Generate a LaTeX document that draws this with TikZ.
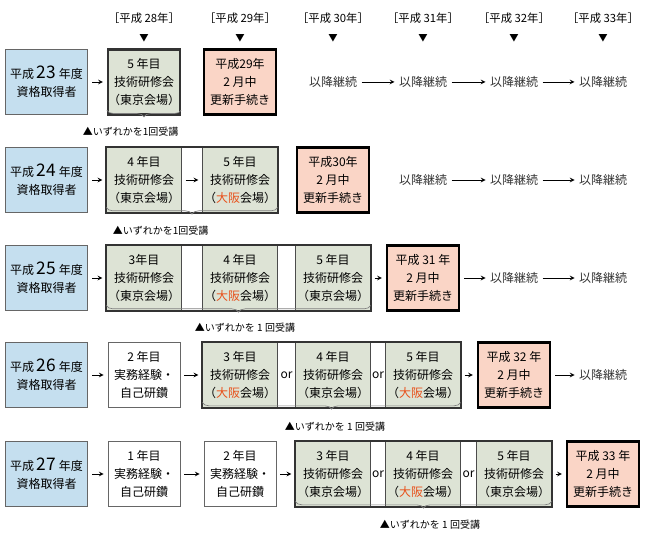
\documentclass[tikz,border=0pt]{standalone}
\usepackage{fontspec}
\setmainfont{Noto Sans CJK JP}
\usetikzlibrary{decorations.pathreplacing,calc}
\definecolor{qualblue}{RGB}{197,223,239}
\definecolor{kenshugreen}{RGB}{221,227,213}
\definecolor{koshinpink}{RGB}{250,213,198}
\definecolor{osakared}{RGB}{232,80,26}
\newcommand{\osaka}{{\color{osakared}大阪}}

\tikzset{every picture/.style={line width=0.75pt}}
\tikzset{
  base/.style={minimum height=48.75pt, align=center, inner sep=0pt, font=\fontsize{9}{13.5}\selectfont},
  qual/.style={base, draw=black!60, fill=qualblue, minimum width=62pt},
  cell/.style={base, draw=black!70, line width=0.5pt, fill=kenshugreen, minimum width=56pt},
  plain/.style={base, draw=black!60, line width=0.5pt, fill=white, minimum width=54pt},
  renew/.style={base, draw=black, line width=1.6pt, fill=koshinpink, minimum width=54pt},
  cont/.style={base, minimum height=10pt, text=black!80},
  grp/.style={draw=black!80, line width=1.6pt},
  nxt/.style={-stealth, line width=0.6pt, shorten <=3pt, shorten >=3pt},
  brc/.style={decorate, decoration={brace, mirror, amplitude=5pt}, draw=black!50, line width=0.5pt},
  note/.style={font=\fontsize{7.5}{9}\selectfont},
  orlbl/.style={font=\fontsize{9}{10}\selectfont}
}

\begin{document}
\begin{tikzpicture}[x=0.75pt,y=0.75pt,yscale=-1,xscale=1]
\useasboundingbox (0,0) rectangle (650,552);

% header
\foreach \yr/\cx in {28/144,29/240,30/333,31/423,32/514,33/603}{
  \node[font=\fontsize{8.5}{10}\selectfont] (h\yr) at (\cx,18) {［平成 \yr 年］};
  \node[font=\fontsize{7}{8}\selectfont] (t\yr) at (\cx,38) {▼};
}

% row 1
\node[qual] (q1) at (46.5,82) {平成 {\fontsize{13}{13}\selectfont 23} 年度\\資格取得者};
\node[cell, grp, minimum width=54pt] (r1c1) at (144,82) {5 年目\\技術研修会\\（東京会場）};
\node[renew] (r1p) at (240,82) {平成29年\\2 月中\\更新手続き};
\node[cont] (r1k3) at (333,82) {以降継続};
\node[cont] (r1k4) at (423,82) {以降継続};
\node[cont] (r1k5) at (514,82) {以降継続};
\node[cont] (r1k6) at (603,82) {以降継続};
\draw[nxt] (q1) -- (r1c1);
\draw[nxt] (r1k3) -- (r1k4);
\draw[nxt] (r1k4) -- (r1k5);
\draw[nxt] (r1k5) -- (r1k6);
\draw[brc] ([yshift=-4pt]r1c1.south west) -- ([yshift=-4pt]r1c1.south east);
\node[note, anchor=west] (n1) at (78,132) {▲いずれかを1回受講};

% row 2
\node[qual] (q2) at (46.5,180) {平成 {\fontsize{13}{13}\selectfont 24} 年度\\資格取得者};
\node[cell] (r2c1) at (144,180) {4 年目\\技術研修会\\（東京会場）};
\node[cell] (r2c2) at (240,180) {5 年目\\技術研修会\\（\osaka 会場）};
\draw[grp] (r2c1.north west) rectangle (r2c2.south east);
\node[renew] (r2p) at (333,180) {平成30年\\2 月中\\更新手続き};
\node[cont] (r2k4) at (423,180) {以降継続};
\node[cont] (r2k5) at (514,180) {以降継続};
\node[cont] (r2k6) at (603,180) {以降継続};
\draw[nxt] (q2) -- (r2c1);
\draw[nxt] (r2c1) -- (r2c2);
\draw[nxt] (r2k4) -- (r2k5);
\draw[nxt] (r2k5) -- (r2k6);
\draw[brc] ([yshift=-4pt]r2c1.south west) -- ([yshift=-4pt]r2c2.south east);
\node[note, anchor=west] (n2) at (108,231) {▲いずれかを1回受講};

% row 3
\node[qual] (q3) at (46.5,278) {平成 {\fontsize{13}{13}\selectfont 25} 年度\\資格取得者};
\node[cell] (r3c1) at (144,278) {3年目\\技術研修会\\（東京会場）};
\node[cell] (r3c2) at (240,278) {4 年目\\技術研修会\\（\osaka 会場）};
\node[cell] (r3c3) at (333,278) {5 年目\\技術研修会\\（東京会場）};
\draw[grp] (r3c1.north west) rectangle (r3c3.south east);
\node[renew] (r3p) at (423,278) {平成 31 年\\2 月中\\更新手続き};
\node[cont] (r3k5) at (514,278) {以降継続};
\node[cont] (r3k6) at (603,278) {以降継続};
\draw[nxt] (q3) -- (r3c1);
\draw[nxt] (r3c3) -- (r3p);
\draw[nxt] (r3p) -- (r3k5);
\draw[nxt] (r3k5) -- (r3k6);
\draw[brc] ([yshift=-4pt]r3c1.south west) -- ([yshift=-4pt]r3c3.south east);
\node[note] (n3) at (245,328) {▲いずれかを 1 回受講};

% row 4
\node[qual] (q4) at (46.5,375) {平成 {\fontsize{13}{13}\selectfont 26} 年度\\資格取得者};
\node[plain] (r4c1) at (144,375) {2 年目\\実務経験・\\自己研鑽};
\node[cell] (r4c2) at (240,375) {3 年目\\技術研修会\\（\osaka 会場）};
\node[cell] (r4c3) at (333,375) {4 年目\\技術研修会\\（東京会場）};
\node[cell] (r4c4) at (423,375) {5 年目\\技術研修会\\（\osaka 会場）};
\draw[grp] (r4c2.north west) rectangle (r4c4.south east);
\node[orlbl] (o4a) at ($(r4c2.east)!0.5!(r4c3.west)$) {or};
\node[orlbl] (o4b) at ($(r4c3.east)!0.5!(r4c4.west)$) {or};
\node[renew] (r4p) at (514,375) {平成 32 年\\2 月中\\更新手続き};
\node[cont] (r4k6) at (603,375) {以降継続};
\draw[nxt] (q4) -- (r4c1);
\draw[nxt] (r4c1) -- (r4c2);
\draw[nxt] (r4c4) -- (r4p);
\draw[nxt] (r4p) -- (r4k6);
\draw[brc] ([yshift=-4pt]r4c2.south west) -- ([yshift=-4pt]r4c4.south east);
\node[note] (n4) at (335,427) {▲いずれかを 1 回受講};

% row 5
\node[qual] (q5) at (46.5,474) {平成 {\fontsize{13}{13}\selectfont 27} 年度\\資格取得者};
\node[plain] (r5c1) at (144,474) {1 年目\\実務経験・\\自己研鑽};
\node[plain] (r5c2) at (240,474) {2 年目\\実務経験・\\自己研鑽};
\node[cell] (r5c3) at (333,474) {3 年目\\技術研修会\\（東京会場）};
\node[cell] (r5c4) at (423,474) {4 年目\\技術研修会\\（\osaka 会場）};
\node[cell] (r5c5) at (514,474) {5 年目\\技術研修会\\（東京会場）};
\draw[grp] (r5c3.north west) rectangle (r5c5.south east);
\node[orlbl] (o5a) at ($(r5c3.east)!0.5!(r5c4.west)$) {or};
\node[orlbl] (o5b) at ($(r5c4.east)!0.5!(r5c5.west)$) {or};
\node[renew] (r5p) at (603,474) {平成 33 年\\2 月中\\更新手続き};
\draw[nxt] (q5) -- (r5c1);
\draw[nxt] (r5c1) -- (r5c2);
\draw[nxt] (r5c2) -- (r5c3);
\draw[nxt] (r5c5) -- (r5p);
\draw[brc] ([yshift=-4pt]r5c3.south west) -- ([yshift=-4pt]r5c5.south east);
\node[note] (n5) at (430,525) {▲いずれかを 1 回受講};

\end{tikzpicture}
\end{document}
